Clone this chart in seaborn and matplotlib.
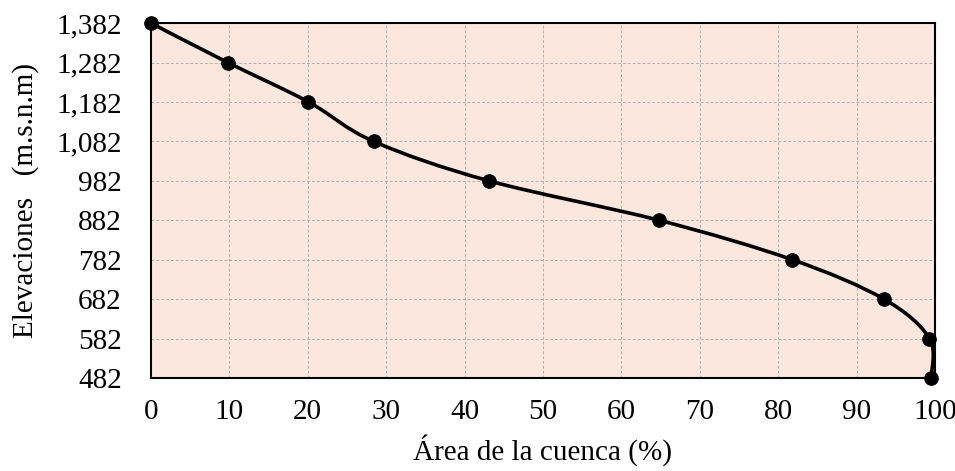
import numpy as np
import pandas as pd
import seaborn as sns
import matplotlib
matplotlib.use("Agg")
import matplotlib.pyplot as plt
from matplotlib.path import Path
from matplotlib.patches import PathPatch
from matplotlib.ticker import FuncFormatter

area_pct = [0.0, 9.8, 20.1, 28.4, 43.1, 64.8, 81.8, 93.5, 99.3, 99.5]
elevations = [1382, 1282, 1182, 1082, 982, 882, 782, 682, 582, 482]
x_ticks = [0, 10, 20, 30, 40, 50, 60, 70, 80, 90, 100]
y_ticks = [482, 582, 682, 782, 882, 982, 1082, 1182, 1282, 1382]

sns.set_theme(style="white")
plt.rcParams['font.family'] = ['Liberation Serif', 'DejaVu Serif']

df = pd.DataFrame({"area": area_pct, "elev": elevations})

fig = plt.figure(figsize=(9.55, 4.71), dpi=100)
ax = fig.add_axes([0.158, 0.1975, 0.821, 0.7535])
ax.set_facecolor("#FBE7DD")

# Smoothed line (Bezier segments through the data points, like Excel)
P = np.column_stack([df["area"].values, df["elev"].values])
n = len(P)
verts = [tuple(P[0])]
codes = [Path.MOVETO]
for i in range(n - 1):
    p0 = P[i - 1] if i > 0 else P[i]
    p1 = P[i]
    p2 = P[i + 1]
    p3 = P[i + 2] if i + 2 < n else P[i + 1]
    c1 = p1 + (p2 - p0) / 6.0
    c2 = p2 - (p3 - p1) / 6.0
    verts += [tuple(c1), tuple(c2), tuple(p2)]
    codes += [Path.CURVE4] * 3
ax.add_patch(PathPatch(Path(verts, codes), facecolor="none", edgecolor="black",
                       lw=2.6, zorder=3, clip_on=False))

sns.scatterplot(data=df, x="area", y="elev", ax=ax, color="black", s=95,
                edgecolor="black", zorder=4, clip_on=False, legend=False)

ax.set_xlim(0, 100)
ax.set_ylim(482, 1382)
ax.set_xticks(x_ticks)
ax.set_yticks(y_ticks)
ax.yaxis.set_major_formatter(FuncFormatter(lambda v, p: f"{int(round(v)):,}"))
ax.grid(True, color="#B0B0B0", linestyle=(0, (3, 2)), linewidth=0.7)
ax.set_axisbelow(True)
for s in ax.spines.values():
    s.set_color("black")
    s.set_linewidth(1.5)
ax.tick_params(axis="y", length=0, labelsize=21, colors="black", pad=21)
ax.tick_params(axis="x", length=0, labelsize=21, colors="black", pad=15)
ax.set_xlabel("Área de la cuenca (%)", fontsize=21, color="black", labelpad=7)
ax.set_ylabel("Elevaciones   (m.s.n.m)", fontsize=21, color="black", labelpad=12)

fig.savefig("out.png", dpi=100)
